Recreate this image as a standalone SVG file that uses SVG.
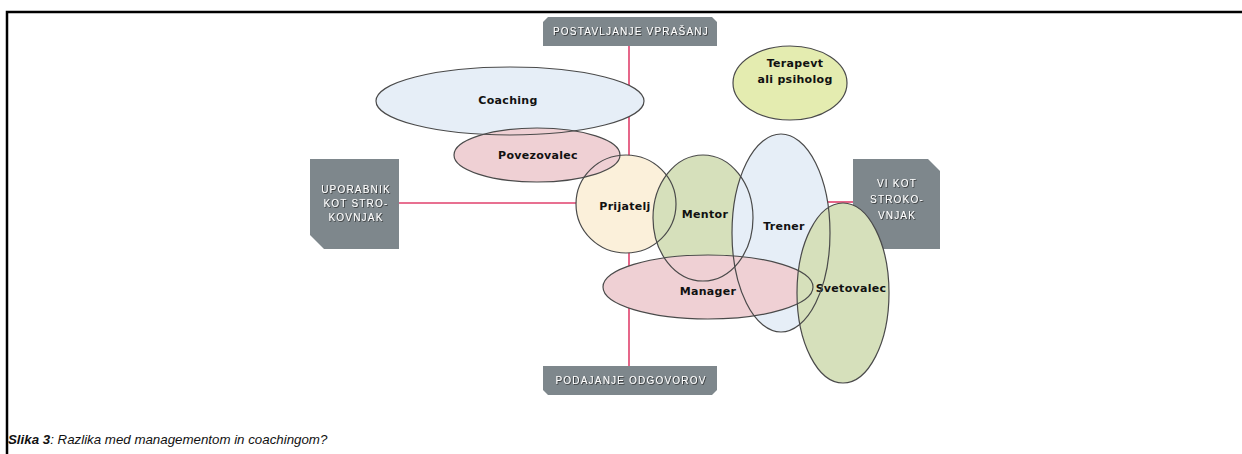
<svg xmlns="http://www.w3.org/2000/svg" xmlns:xlink="http://www.w3.org/1999/xlink" width="1242" height="454" viewBox="0 0 1242 454">
<style>
.frame{fill:none;stroke:#000;stroke-width:2.5}
.box{fill:#7e878c}
.boxt{font-family:"Liberation Sans",Arial,sans-serif;font-size:10px;fill:#fff;letter-spacing:1.2px;text-anchor:middle;filter:url(#sh)}
.link{stroke:#e0406c;stroke-width:1.6;fill:none}
.lbl{font-family:"DejaVu Sans",Verdana,sans-serif;font-weight:bold;font-size:11px;fill:#111;text-anchor:middle;dominant-baseline:central;letter-spacing:0.3px}
.outline{fill:none;stroke:#4a4a4a;stroke-width:1.2}
.blue{fill:#e6eef7}
.pink{fill:#efd0d4}
.cream{fill:#fbf0da}
.green{fill:#d6e0bb}
.yellow{fill:#e4ecb0}
.cap{font-family:"Liberation Sans",Arial,sans-serif;font-size:13.3px;font-style:italic;fill:#111}
</style>
<defs>
<filter id="sh" x="-10%" y="-30%" width="130%" height="160%">
<feDropShadow dx="0.8" dy="0.8" stdDeviation="0.3" flood-color="#222" flood-opacity="0.9"/>
</filter>
<ellipse id="e-coaching" cx="510" cy="101" rx="134" ry="34"/>
<ellipse id="e-prijatelj" cx="626" cy="204" rx="50" ry="49"/>
<ellipse id="e-povezovalec" cx="537" cy="155" rx="83" ry="27"/>
<ellipse id="e-mentor" cx="703" cy="218" rx="50" ry="63"/>
<ellipse id="e-trener" cx="781" cy="233" rx="49" ry="99"/>
<ellipse id="e-manager" cx="708" cy="287" rx="105" ry="32"/>
<ellipse id="e-svetovalec" cx="843" cy="293" rx="46" ry="90"/>
<ellipse id="e-terapevt" cx="790" cy="83" rx="57" ry="37"/>
</defs>
<rect width="1242" height="454" fill="#fff"/>
<path class="frame" d="M7,454 V12 H1242"/>

<g id="connectors">
<line class="link" x1="629" y1="46" x2="629" y2="366"/>
<line class="link" x1="399" y1="203" x2="626" y2="203"/>
<line class="link" x1="828" y1="202" x2="853" y2="202"/>
</g>

<g id="node-top">
<path class="box" d="M543,22 L548,17 L712,17 L717,22 L717,46 L543,46 Z"/>
<text class="boxt" x="631" y="35">POSTAVLJANJE VPRAŠANJ</text>
</g>
<g id="node-bottom">
<path class="box" d="M543,366 L717,366 L717,390 L712,395 L548,395 L543,390 Z"/>
<text class="boxt" x="631" y="384">PODAJANJE ODGOVOROV</text>
</g>
<g id="node-left">
<path class="box" d="M310,159 L399,159 L399,249 L324,249 L310,235 Z"/>
<text class="boxt" x="356" y="193">UPORABNIK</text>
<text class="boxt" x="356" y="207">KOT STRO-</text>
<text class="boxt" x="356" y="221">KOVNJAK</text>
</g>
<g id="node-right">
<path class="box" d="M853,159 L928,159 L940,171 L940,249 L853,249 Z"/>
<text class="boxt" x="897" y="187">VI KOT</text>
<text class="boxt" x="897" y="203">STROKO-</text>
<text class="boxt" x="897" y="219">VNJAK</text>
</g>

<g id="node-terapevt">
<use xlink:href="#e-terapevt" class="yellow"/>
<use xlink:href="#e-terapevt" class="outline"/>
<text class="lbl" x="795" y="63">Terapevt</text>
<text class="lbl" x="795" y="79">ali psiholog</text>
</g>
<g id="node-coaching">
<use xlink:href="#e-coaching" class="blue"/>
<text class="lbl" x="508" y="100">Coaching</text>
</g>
<g id="node-prijatelj">
<use xlink:href="#e-prijatelj" class="cream"/>
<text class="lbl" x="625" y="206">Prijatelj</text>
</g>
<g id="node-povezovalec">
<use xlink:href="#e-povezovalec" class="pink"/>
<text class="lbl" x="538" y="155">Povezovalec</text>
</g>
<g id="node-mentor">
<use xlink:href="#e-mentor" class="green"/>
<text class="lbl" x="705" y="214">Mentor</text>
</g>
<g id="node-trener">
<use xlink:href="#e-trener" class="blue"/>
<text class="lbl" x="784" y="226">Trener</text>
</g>
<g id="node-manager">
<use xlink:href="#e-manager" class="pink"/>
<text class="lbl" x="708" y="291">Manager</text>
</g>
<g id="node-svetovalec">
<use xlink:href="#e-svetovalec" class="green"/>
<text class="lbl" x="851" y="288">Svetovalec</text>
</g>

<g id="outlines">
<use xlink:href="#e-coaching" class="outline"/>
<use xlink:href="#e-prijatelj" class="outline"/>
<use xlink:href="#e-povezovalec" class="outline"/>
<use xlink:href="#e-mentor" class="outline"/>
<use xlink:href="#e-trener" class="outline"/>
<use xlink:href="#e-manager" class="outline"/>
<use xlink:href="#e-svetovalec" class="outline"/>
</g>

<text class="cap" x="8" y="444"><tspan font-weight="bold">Slika 3</tspan>: Razlika med managementom in coachingom?</text>
</svg>
